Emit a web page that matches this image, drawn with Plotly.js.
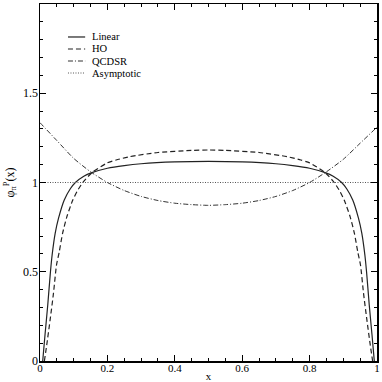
<!DOCTYPE html>
<html>
<head>
<meta charset="utf-8">
<script src="https://cdn.plot.ly/plotly-3.0.1.min.js"></script>
<style>html,body{margin:0;padding:0;background:#fff;}#chart{width:382px;height:382px;}</style>
</head>
<body>
<div id="chart"></div>
<script>
// Linear model
const linearX = [0.008, 0.015, 0.023, 0.031, 0.036, 0.045, 0.055, 0.072, 0.09, 0.105, 0.13, 0.154, 0.2, 0.25, 0.3, 0.4, 0.5, 0.6, 0.7, 0.75, 0.8, 0.846, 0.87, 0.895, 0.91, 0.928, 0.945, 0.955, 0.964, 0.969, 0.977, 0.985, 0.992];
const linearY = [0, 0.15, 0.314, 0.5, 0.594, 0.715, 0.8, 0.902, 0.965, 1.0, 1.035, 1.055, 1.08, 1.095, 1.105, 1.115, 1.118, 1.115, 1.105, 1.095, 1.08, 1.055, 1.035, 1.0, 0.965, 0.902, 0.8, 0.715, 0.594, 0.5, 0.314, 0.15, 0];
// HO model
const hoX = [0.013, 0.02, 0.03, 0.04, 0.049, 0.057, 0.067, 0.08, 0.097, 0.11, 0.127, 0.154, 0.2, 0.226, 0.267, 0.35, 0.45, 0.5, 0.55, 0.65, 0.733, 0.774, 0.8, 0.846, 0.873, 0.89, 0.903, 0.92, 0.933, 0.943, 0.951, 0.96, 0.97, 0.98, 0.987];
const hoY = [0, 0.09, 0.23, 0.38, 0.538, 0.61, 0.715, 0.81, 0.90, 0.95, 1.0, 1.055, 1.11, 1.126, 1.145, 1.168, 1.18, 1.182, 1.18, 1.168, 1.145, 1.126, 1.11, 1.055, 1.0, 0.95, 0.90, 0.81, 0.715, 0.61, 0.538, 0.38, 0.23, 0.09, 0];
// QCD sum rules
const qcdsrX = [0, 0.05, 0.1, 0.15, 0.2, 0.25, 0.3, 0.35, 0.4, 0.45, 0.5, 0.55, 0.6, 0.65, 0.7, 0.75, 0.8, 0.85, 0.9, 0.95, 1];
const qcdsrY = [1.335, 1.235, 1.135, 1.06, 1.0, 0.955, 0.922, 0.899, 0.884, 0.876, 0.872, 0.876, 0.884, 0.899, 0.922, 0.955, 1.0, 1.06, 1.13, 1.22, 1.31];
// Asymptotic
const asymX = [0, 1];
const asymY = [1, 1];

const names = ["Linear", "HO", "QCDSR", "Asymptotic"];
const serif = "Liberation Serif, Times New Roman, serif";

const styles = [
  {color: "#222", width: 1.2, dash: "solid"},
  {color: "#222", width: 1.2, dash: "5px,3px"},
  {color: "#333", width: 1, dash: "5px,2px,1px,2px"},
  {color: "#555", width: 1, dash: "1px,1.5px"}
];
const xs = [linearX, hoX, qcdsrX, asymX];
const ys = [linearY, hoY, qcdsrY, asymY];

const traces = names.map((n, i) => ({
  x: xs[i], y: ys[i], name: n, mode: "lines", showlegend: false,
  line: Object.assign({}, styles[i], i < 3 ? {shape: "spline", smoothing: 0.6} : {})
}));

// legend drawn inside plot (upper left) with tight row spacing
const legRows = [0.9076, 0.874, 0.8403, 0.8067];
const shapes = names.map((n, i) => ({
  type: "line", xref: "paper", yref: "paper", x0: 0.083, x1: 0.134, y0: legRows[i], y1: legRows[i],
  line: {color: styles[i].color, width: styles[i].width, dash: styles[i].dash}
}));
const annotations = names.map((n, i) => ({
  text: n, xref: "paper", yref: "paper", x: 0.155, y: legRows[i], xanchor: "left", yanchor: "middle",
  showarrow: false, borderpad: 0, borderwidth: 0, font: {family: serif, size: 10.5, color: "#000"}
}));

const layout = {
  width: 382, height: 382,
  margin: {l: 40, r: 5, t: 4, b: 21},
  paper_bgcolor: "#fff", plot_bgcolor: "#fff",
  font: {family: serif, size: 11, color: "#000"},
  showlegend: false,
  shapes: shapes,
  annotations: annotations,
  xaxis: {
    range: [0, 1], tickvals: [0, 0.2, 0.4, 0.6, 0.8, 1], ticktext: ["0", "0.2", "0.4", "0.6", "0.8", "1"],
    ticks: "inside", ticklen: 6, tickwidth: 1, tickcolor: "#000",
    minor: {dtick: 0.05, tick0: 0, ticks: "inside", ticklen: 3, tickcolor: "#000"},
    showline: true, linecolor: "#000", linewidth: 1.5, mirror: "ticks",
    showgrid: false, zeroline: false, ticklabelstandoff: -4,
    title: {text: "x", font: {family: serif, size: 11}, standoff: 0},
    tickfont: {family: serif, size: 11}
  },
  yaxis: {
    range: [0, 2], tickvals: [0, 0.5, 1, 1.5, 2], ticktext: ["0", "0.5", "1", "1.5", "2"],
    ticks: "inside", ticklen: 6, tickwidth: 1, tickcolor: "#000",
    minor: {dtick: 0.1, tick0: 0, ticks: "inside", ticklen: 3, tickcolor: "#000"},
    showline: true, linecolor: "#000", linewidth: 1.5, mirror: "ticks",
    showgrid: false, zeroline: false, ticklabelstandoff: -2,
    title: {text: "φ<sub>π</sub><sup>P</sup>(x)", font: {family: serif, size: 12}, standoff: 6},
    tickfont: {family: serif, size: 12}
  }
};

Plotly.newPlot("chart", traces, layout, {staticPlot: true, displayModeBar: false});
</script>
</body>
</html>
